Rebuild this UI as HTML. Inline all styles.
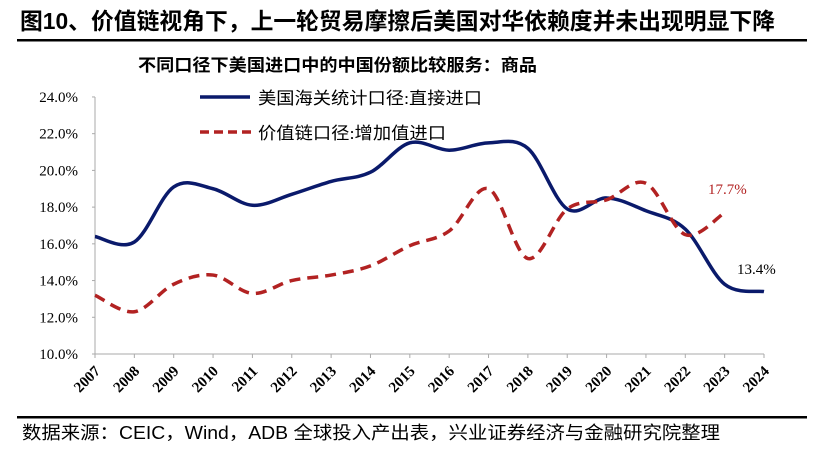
<!DOCTYPE html><html><head><meta charset="utf-8"><style>
body{margin:0;background:#fff;width:824px;height:453px;overflow:hidden;font-family:"Liberation Sans","Noto Sans CJK SC",sans-serif}
</style></head><body>
<svg id="s" width="824" height="453" xmlns="http://www.w3.org/2000/svg">
<text x="20" y="29" font-size="23" font-weight="bold" textLength="755" lengthAdjust="spacingAndGlyphs" font-family="Liberation Sans,Noto Sans CJK SC,sans-serif">图10、价值链视角下，上一轮贸易摩擦后美国对华依赖度并未出现明显下降</text>
<rect x="17" y="39" width="790" height="2.5" fill="#000"/>
<text x="138" y="71" font-size="17" font-weight="bold" textLength="399" lengthAdjust="spacingAndGlyphs" font-family="Liberation Sans,Noto Sans CJK SC,sans-serif">不同口径下美国进口中的中国份额比较服务：商品</text>
<g id="ax" font-family="Liberation Serif,serif" font-size="15"></g>
<line x1="200" y1="97" x2="250" y2="97" stroke="#0a1a6b" stroke-width="3.5"/>
<text x="258" y="104" font-size="17" textLength="224" lengthAdjust="spacingAndGlyphs" font-family="Liberation Serif,Noto Sans CJK SC,sans-serif">美国海关统计口径:直接进口</text>
<line x1="200" y1="132" x2="252" y2="132" stroke="#b22222" stroke-width="3.5" stroke-dasharray="9,5"/>
<text x="258" y="139" font-size="17" textLength="188" lengthAdjust="spacingAndGlyphs" font-family="Liberation Serif,Noto Sans CJK SC,sans-serif">价值链口径:增加值进口</text>
<path id="b" fill="none" stroke="#0a1a6b" stroke-width="3.5"/>
<path id="r" fill="none" stroke="#b22222" stroke-width="3.5" stroke-dasharray="11,7"/>
<text x="708" y="194" font-size="15" fill="#b22222" font-family="Liberation Serif,serif">17.7%</text>
<text x="737" y="274" font-size="15" font-family="Liberation Serif,serif">13.4%</text>
<rect x="17" y="416" width="790" height="2.5" fill="#000"/>
<text x="22" y="439" font-size="18" textLength="698" lengthAdjust="spacingAndGlyphs" font-family="Liberation Sans,Noto Sans CJK SC,sans-serif">数据来源：CEIC，Wind，ADB 全球投入产出表，兴业证券经济与金融研究院整理</text>
</svg>
<script>
var X0=95,X1=764,dx=(X1-X0)/17;
function Y(v){return 354-(v-10)*18.36;}
var ax=document.getElementById('ax'),h='';
h+='<line x1="95" y1="97" x2="95" y2="354" stroke="#aaa"/><line x1="95" y1="354" x2="764" y2="354" stroke="#aaa"/>';
for(var v=10;v<=24;v+=2){var y=Y(v);h+='<line x1="92" y1="'+y+'" x2="95" y2="'+y+'" stroke="#aaa"/><text x="78" y="'+(y+5)+'" text-anchor="end">'+v.toFixed(1)+'%</text>';}
for(var i=0;i<18;i++){var x=X0+dx*i;h+='<line x1="'+x+'" y1="354" x2="'+x+'" y2="358" stroke="#aaa"/><text transform="translate('+(x+6)+',372) rotate(-45)" text-anchor="end" font-weight="bold">'+(2007+i)+'</text>';}
ax.innerHTML=h;
function path(d){var p=d.map(function(v,i){return[X0+dx*i,Y(v)]});var s='M'+p[0][0]+','+p[0][1];
for(var i=0;i<p.length-1;i++){var a=p[Math.max(i-1,0)],b=p[i],c=p[i+1],e=p[Math.min(i+2,p.length-1)];
s+=' C'+(b[0]+(c[0]-a[0])/6)+','+(b[1]+(c[1]-a[1])/6)+' '+(c[0]-(e[0]-b[0])/6)+','+(c[1]-(e[1]-b[1])/6)+' '+c[0]+','+c[1];}return s;}
document.getElementById('b').setAttribute('d',path([16.4,16.1,19.1,19.0,18.1,18.7,19.4,19.9,21.5,21.1,21.5,21.2,17.9,18.5,17.8,16.8,13.8,13.4]));
document.getElementById('r').setAttribute('d',path([13.2,12.3,13.8,14.3,13.3,14.0,14.3,14.8,15.9,16.7,19.0,15.2,17.9,18.4,19.3,16.5,17.7]));
</script>
</body></html>
